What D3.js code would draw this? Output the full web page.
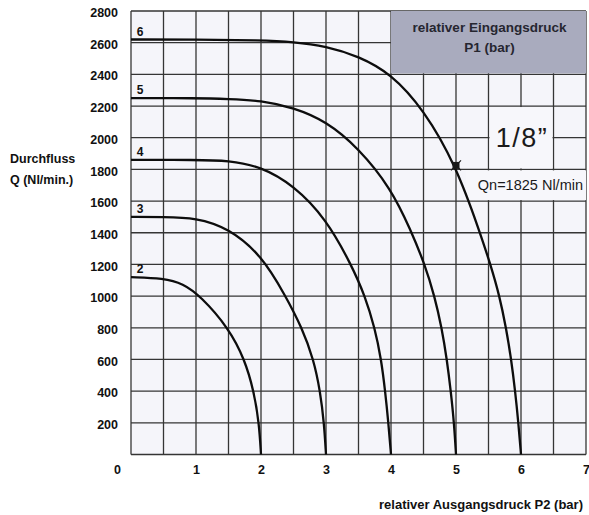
<!DOCTYPE html>
<html>
<head>
<meta charset="utf-8">
<script src="https://d3js.org/d3.v7.min.js"></script>
<style>
  body { margin: 0; background: #ffffff; }
  svg { display: block; font-family: "Liberation Sans", Arial, sans-serif; }
</style>
</head>
<body>
<div id="chart"></div>
<script>

// ---------------------------------------------
// ---------        Chart Data       -----------
// ---------------------------------------------

// inlet pressure P1 (bar) of each curve
var inletPressures = [2, 3, 4, 5, 6];

// outlet pressure P2 (bar) and flow Q (Nl/min)
var p2_bar2 = [0, 0.5, 0.8, 1.07, 1.5, 1.75, 1.89, 1.97, 2];
var q_bar2  = [1120, 1113, 1080, 1000, 800, 600, 400, 200, 0];

var p2_bar3 = [0, 0.5, 1, 1.5, 2, 2.38, 2.63, 2.81, 2.91, 2.97, 3];
var q_bar3  = [1500, 1500, 1495, 1430, 1262, 1000, 800, 600, 400, 200, 0];

var p2_bar4 = [0, 1, 1.5, 2, 2.5, 3, 3.4, 3.6, 3.75, 3.85, 3.91, 3.96, 4];
var q_bar4  = [1860, 1860, 1856, 1818, 1700, 1490, 1190, 1000, 800, 600, 400, 200, 0];

var p2_bar5 = [0, 1, 1.5, 2, 2.5, 3, 3.5, 4, 4.3, 4.52, 4.67, 4.78, 4.86, 4.92, 4.97, 5];
var q_bar5  = [2250, 2250, 2245, 2235, 2190, 2105, 1935, 1680, 1420, 1200, 1000, 800, 600, 400, 200, 0];

var p2_bar6 = [0, 1, 2, 2.5, 3, 3.5, 4, 4.5, 5, 5.37, 5.53, 5.67, 5.77, 5.85, 5.91, 5.96, 6];
var q_bar6  = [2620, 2620, 2615, 2605, 2578, 2515, 2405, 2180, 1825, 1400, 1200, 1000, 800, 600, 400, 200, 0];

// nominal flow point
var nominalP2 = 5;
var nominalQ = 1825;

// ticks
var xTicks = [0, 1, 2, 3, 4, 5, 6, 7];
var yTicks = [200, 400, 600, 800, 1000, 1200, 1400, 1600, 1800, 2000, 2200, 2400, 2600, 2800];

var series = [
  { p1: inletPressures[0], p2: p2_bar2, q: q_bar2 },
  { p1: inletPressures[1], p2: p2_bar3, q: q_bar3 },
  { p1: inletPressures[2], p2: p2_bar4, q: q_bar4 },
  { p1: inletPressures[3], p2: p2_bar5, q: q_bar5 },
  { p1: inletPressures[4], p2: p2_bar6, q: q_bar6 }
].map(function(s) {
  return { p1: s.p1, points: s.p2.map(function(p, i) { return { p: p, q: s.q[i] }; }) };
});

// ---------------------------------------------
// ---------    Basic Chart Layout      --------
// ---------------------------------------------

var W = 589, H = 515;
var gridColor = "#353535";

var svg = d3.select("#chart")
  .append("svg")
    .attr("width", W)
    .attr("height", H);

var x = d3.scaleLinear().domain([0, 7]).range([131, 586]);
var y = d3.scaleLinear().domain([0, 2800]).range([454.5, 11]);

// plot background
svg.append("rect")
  .attr("x", x(0))
  .attr("y", y(2800))
  .attr("width", x(7) - x(0))
  .attr("height", y(0) - y(2800))
  .attr("fill", "#f5f5fa");

// grid lines every 0.5 bar and every 200 Nl/min
var grid = svg.append("g").attr("class", "grid");

grid.selectAll(".vline")
  .data(d3.range(0, 7.01, 0.5))
  .join("line")
    .attr("class", "vline")
    .attr("x1", d => x(d)).attr("x2", d => x(d))
    .attr("y1", y(0)).attr("y2", y(2800))
    .attr("stroke", gridColor)
    .attr("stroke-width", 1.3);

grid.selectAll(".hline")
  .data(d3.range(0, 2801, 200))
  .join("line")
    .attr("class", "hline")
    .attr("x1", x(0)).attr("x2", x(7))
    .attr("y1", d => y(d)).attr("y2", d => y(d))
    .attr("stroke", gridColor)
    .attr("stroke-width", 1.3);

// ---------------------------------------------
// ---------     Annotation boxes       --------
// ---------------------------------------------

// inlet pressure title box
svg.append("rect")
  .attr("x", x(4))
  .attr("y", y(2800))
  .attr("width", x(7) - x(4))
  .attr("height", y(2400) - y(2800) - 1)
  .attr("fill", "#a9abbe");

var boxText = svg.append("text")
  .attr("text-anchor", "middle")
  .attr("font-size", 13.5)
  .attr("font-weight", "bold")
  .attr("fill", "#262630");
boxText.append("tspan").attr("x", (x(4) + x(7)) / 2 + 1).attr("y", 32).text("relativer Eingangsdruck");
boxText.append("tspan").attr("x", (x(4) + x(7)) / 2 + 1).attr("y", 52).text("P1 (bar)");

// blank cells behind the size label and the nominal flow
svg.append("rect")
  .attr("x", x(5.5) + 1)
  .attr("y", y(2200) + 1)
  .attr("width", x(6.5) - x(5.5) - 2)
  .attr("height", y(1800) - y(2200) - 2)
  .attr("fill", "#f7f7fb");

svg.append("rect")
  .attr("x", x(5.15))
  .attr("y", y(1800) + 1)
  .attr("width", x(7) - x(5.15))
  .attr("height", y(1600) - y(1800) - 2)
  .attr("fill", "#f7f7fb");

svg.append("text")
  .attr("x", x(6) + 1)
  .attr("y", 147)
  .attr("text-anchor", "middle")
  .attr("font-size", 27)
  .attr("letter-spacing", 1.5)
  .attr("fill", "#1a1a1a")
  .text("1/8\u201D");

svg.append("text")
  .attr("x", 583)
  .attr("y", 190)
  .attr("text-anchor", "end")
  .attr("font-size", 14.5)
  .attr("fill", "#1a1a1a")
  .text("Qn=1825 Nl/min");

// ---------------------------------------------
// ---------          Curves            --------
// ---------------------------------------------

var line = d3.line()
  .x(d => x(d.p))
  .y(d => y(d.q))
  .curve(d3.curveBasis);

svg.append("g")
  .selectAll("path")
  .data(series)
  .join("path")
    .attr("d", d => line(d.points))
    .attr("fill", "none")
    .attr("stroke", "#0d0d0d")
    .attr("stroke-width", 2.3);

svg.append("g")
  .selectAll("text")
  .data(series)
  .join("text")
    .attr("x", x(0) + 9)
    .attr("y", d => y(d.points[0].q) - 4)
    .attr("text-anchor", "middle")
    .attr("font-size", 12)
    .attr("font-weight", "bold")
    .attr("fill", "#111")
    .text(d => d.p1);

// nominal flow marker
var marker = svg.append("g")
  .attr("transform", "translate(" + x(nominalP2) + "," + y(nominalQ) + ")");
marker.append("rect")
  .attr("x", -3.5).attr("y", -3.5)
  .attr("width", 7).attr("height", 7)
  .attr("fill", "#1a1a1a");
marker.append("path")
  .attr("d", "M-5,-5L5,5M-5,5L5,-5")
  .attr("stroke", "#1a1a1a")
  .attr("stroke-width", 1.2);

// ---------------------------------------------
// ---------           Axes             --------
// ---------------------------------------------

var yAxis = svg.append("g")
  .attr("transform", "translate(118,0)")
  .call(d3.axisLeft(y).tickValues(yTicks).tickSize(0).tickPadding(0).tickFormat(d3.format("d")));
yAxis.select(".domain").remove();
yAxis.selectAll("text")
  .attr("font-size", 12.5)
  .attr("font-weight", "bold")
  .attr("font-family", "Liberation Sans, Arial, sans-serif")
  .attr("fill", "#111")
  .attr("dy", "0.45em");

var xAxis = svg.append("g")
  .attr("transform", "translate(0," + y(0) + ")")
  .call(d3.axisBottom(x).tickValues(xTicks).tickSize(0).tickPadding(0).tickFormat(d3.format("d")));
xAxis.select(".domain").remove();
xAxis.selectAll("text")
  .attr("font-size", 12.5)
  .attr("font-weight", "bold")
  .attr("font-family", "Liberation Sans, Arial, sans-serif")
  .attr("fill", "#111")
  .attr("y", 11);
// origin label sits in the y label column
xAxis.selectAll(".tick")
  .filter(d => d === 0)
  .select("text")
    .attr("x", -14);

// axis titles
var yTitle = svg.append("text")
  .attr("font-size", 12.5)
  .attr("font-weight", "bold")
  .attr("fill", "#111");
yTitle.append("tspan").attr("x", 10).attr("y", 163).text("Durchfluss");
yTitle.append("tspan").attr("x", 10).attr("y", 184).text("Q (Nl/min.)");

svg.append("text")
  .attr("x", 583)
  .attr("y", 509)
  .attr("text-anchor", "end")
  .attr("font-size", 13)
  .attr("font-weight", "bold")
  .attr("fill", "#111")
  .text("relativer Ausgangsdruck P2 (bar)");

</script>
</body>
</html>
